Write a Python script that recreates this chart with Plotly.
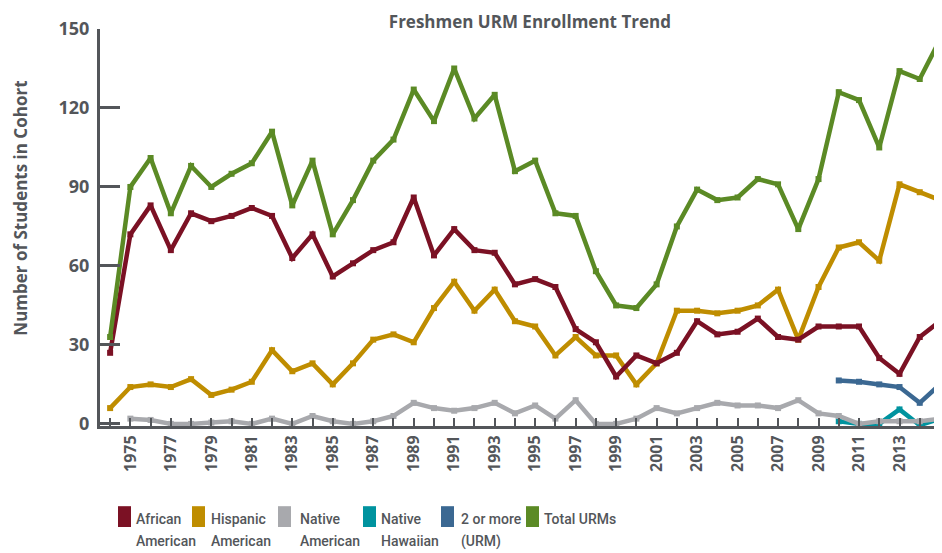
import plotly.graph_objects as go

years = list(range(1974, 2016))

african_american = [27, 72, 83, 66, 80, 77, 79, 82, 79, 63, 72, 56, 61, 66, 69, 86, 64, 74, 66, 65,
                    53, 55, 52, 36, 31, 18, 26, 23, 27, 39, 34, 35, 40, 33, 32, 37, 37, 37, 25, 19, 33, 39]
hispanic_american = [6, 14, 15, 14, 17, 11, 13, 16, 28, 20, 23, 15, 23, 32, 34, 31, 44, 54, 43, 51,
                     39, 37, 26, 33, 26, 26, 15, 23, 43, 43, 42, 43, 45, 51, 32, 52, 67, 69, 62, 91, 88, 85]
native_american = [None, 2, 1.5, 0, 0, 0.5, 1, 0, 2, 0, 3, 1, 0, 1, 3, 8, 6, 5, 6, 8,
                   4, 7, 2, 9, 0, 0, 2, 6, 4, 6, 8, 7, 7, 6, 9, 4, 3, 0, 1, 1, 1, 2]
native_hawaiian_years = [2010, 2011, 2012, 2013, 2014, 2015]
native_hawaiian = [1, 0, 0, 5.5, -0.5, 2]
two_or_more_years = [2010, 2011, 2012, 2013, 2014, 2015]
two_or_more = [16.5, 16, 15, 14, 8, 15]
total_urms = [33, 90, 101, 80, 98, 90, 95, 99, 111, 83, 100, 72, 85, 100, 108, 127, 115, 135, 116, 125,
              96, 100, 80, 79, 58, 45, 44, 53, 75, 89, 85, 86, 93, 91, 74, 93, 126, 123, 105, 134, 131, 146]

series_names = ["African American", "Hispanic American", "Native American",
                "Native Hawaiian", "2 or more (URM)", "Total URMs"]
legend_lines = [("African", "American"), ("Hispanic", "American"), ("Native", "American"),
                ("Native", "Hawaiian"), ("2 or more", "(URM)"), ("Total URMs", "")]
colors = ["#7B1124", "#BF8D00", "#A8A9AD", "#00939F", "#3B6892", "#5B8A25"]

TEXT = "#53565A"
BOLD = "Open Sans, Roboto, Arial, sans-serif"
LEG_FONT = "Roboto, Arial, sans-serif"

# page body adds an 8px offset; the figure is laid out so the plot lands where the reference has it
W, H = 942, 553
ML, MR, MT, MB = 92, 8, 17, 135
PW, PH = W - ML - MR, H - MT - MB
OFF = 8


def px_x(sx):
    return (sx - OFF - ML) / PW


def px_y(sy):
    return (H - MB - (sy - OFF)) / PH


fig = go.Figure()

draw = [
    (years, hispanic_american, 1),
    (native_hawaiian_years, native_hawaiian, 3),
    (years, native_american, 2),
    (two_or_more_years, two_or_more, 4),
    (years, african_american, 0),
    (years, total_urms, 5),
]
for xs, ys, i in draw:
    fig.add_trace(go.Scatter(
        x=xs, y=ys, mode="lines+markers", name=series_names[i],
        line=dict(color=colors[i], width=4.5),
        marker=dict(symbol="square", size=6, color=colors[i]),
        showlegend=False, cliponaxis=True, connectgaps=False,
    ))

# legend (swatch + two text lines per entry)
swatch_left = [118, 192, 278, 363, 441, 526]
text_left = [134, 209, 298, 379, 459, 542]
shapes = []
annotations = []
for i in range(6):
    shapes.append(dict(type="rect", xref="paper", yref="paper",
                       x0=px_x(swatch_left[i]), x1=px_x(swatch_left[i] + 13),
                       y0=px_y(528), y1=px_y(507),
                       fillcolor=colors[i], line=dict(width=0)))
    for line_text, cy in zip(legend_lines[i], (519.5, 542.5)):
        if not line_text:
            continue
        annotations.append(dict(text=line_text, xref="paper", yref="paper",
                                x=px_x(text_left[i]), y=px_y(cy), xanchor="left", yanchor="middle",
                                showarrow=False, align="left",
                                font=dict(size=14, color=TEXT, family=LEG_FONT, weight=500)))

annotations.append(dict(text="<b>Number of Students in Cohort</b>", textangle=-90,
                        xref="paper", yref="paper", x=px_x(20.5), y=px_y(206),
                        xanchor="center", yanchor="middle", showarrow=False,
                        font=dict(size=17, color=TEXT, family=BOLD)))

fig.update_layout(
    width=W, height=H,
    margin=dict(l=ML, r=MR, t=MT, b=MB),
    paper_bgcolor="white", plot_bgcolor="white",
    font=dict(family=BOLD, color=TEXT),
    title=dict(text="<b>Freshmen URM Enrollment Trend</b>", x=0.554, xanchor="center",
               y=0.986, yanchor="top", font=dict(size=17, color=TEXT, family=BOLD)),
    xaxis=dict(
        range=[1973.5, 2015.1], tickmode="linear", tick0=1975, dtick=2,
        ticks="inside", ticklen=8, tickwidth=2, tickcolor=TEXT,
        minor=dict(dtick=1, tick0=1974, ticks="inside", ticklen=8, tickwidth=2, tickcolor=TEXT),
        showline=True, linewidth=3, linecolor=TEXT, showgrid=False, zeroline=False,
        tickangle=-90, tickfont=dict(size=16, color=TEXT, family=BOLD, weight="bold"),
        fixedrange=True,
    ),
    yaxis=dict(
        range=[-0.8, 150], tickmode="linear", tick0=0, dtick=30,
        ticks="inside", ticklen=20, tickwidth=3, tickcolor=TEXT,
        showline=True, linewidth=3, linecolor=TEXT, showgrid=False, zeroline=False,
        tickfont=dict(size=18, color=TEXT, family=BOLD, weight="bold"),
        ticklabelstandoff=4,
    ),
    shapes=shapes,
    annotations=annotations,
    showlegend=False,
)

fig.write_html("out.html")
